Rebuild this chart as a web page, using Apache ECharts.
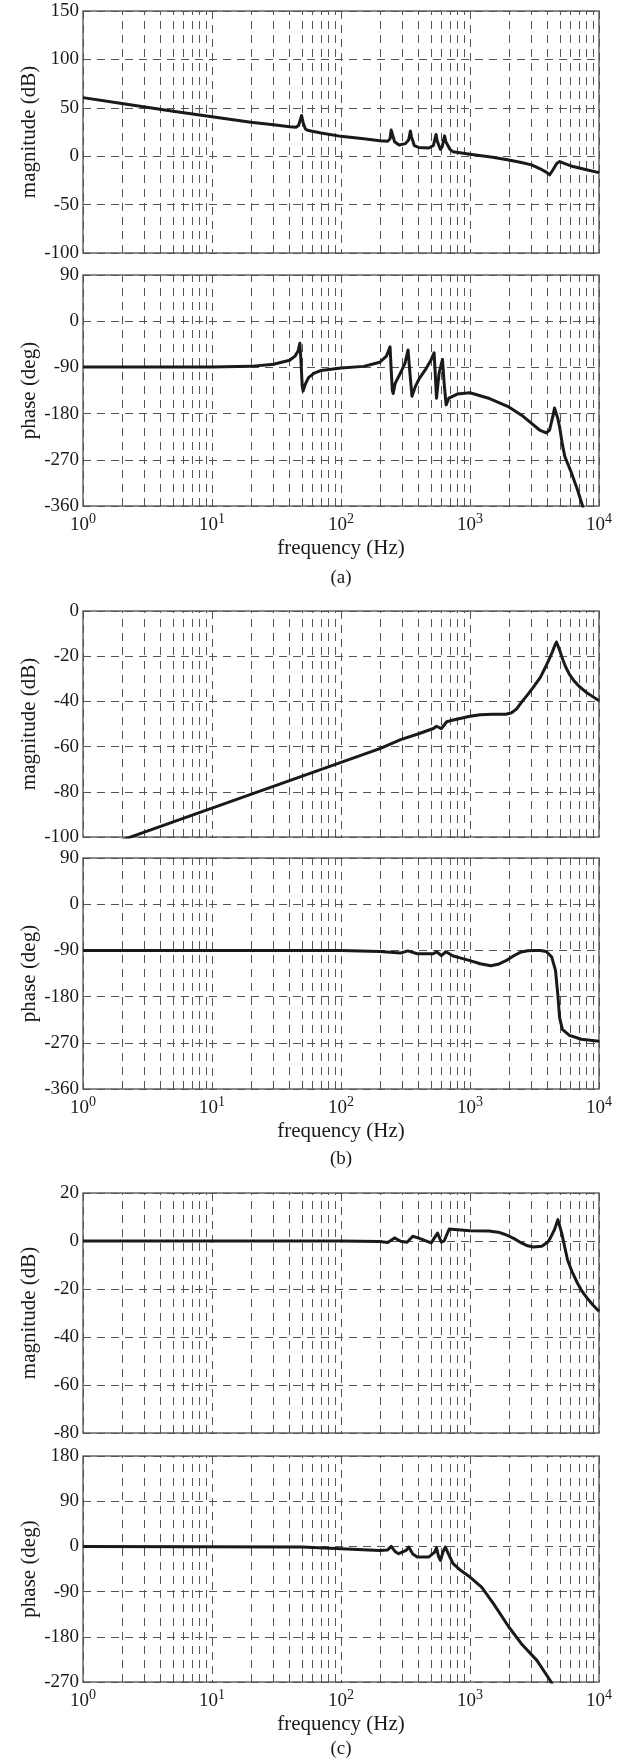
<!DOCTYPE html>
<html><head><meta charset="utf-8">
<script src="https://cdn.jsdelivr.net/npm/echarts@6/dist/echarts.min.js"></script>
<style>html,body{margin:0;padding:0;background:#fff}#c{width:629px;height:1758px}</style>
</head><body><div id="c"></div>
<script>
// ---------- data ----------
const magAFreq = [1,2,5,10,20,30,40,45,47,48.5,49.5,51,53,56,70,100,150,200,230,240,245,248,251,260,282,316,335,345,352,370,400,480,520,535,546,556,590,610,625,635,650,700,740,1000,1500,2000,2500,3000,3500,3900,4140,4400,4700,4955,5500,6300,8000,10000];
const magA     = [60.5,54.5,46.5,40.8,35,32.5,30.5,30,32,38,42,34,28,26.5,24,20.5,18,16,15.5,18,27,28.5,25,15,11.5,13,17,26,20,11,9,8.5,11,18,22.5,16,7,10,17,21,15,7,4.5,2,-1,-4,-6.5,-9,-13,-16.5,-19.3,-14,-7.5,-5.5,-8,-10.7,-14,-17];

const phaseAFreq = [1,10,20,30,40,44,46.5,48,49,50,50.8,53,56,62,70,100,150,200,225,240,245,250,254,263,293,313,331,342,355,376,404,450,501,527,537,550,575,612,630,653,686,797,1000,1416,2000,2512,3000,3465,3900,4140,4390,4520,4800,4950,5200,5440,6000,6800,7460,7600];
const phaseA     = [-89,-89,-88,-84,-76,-68,-58,-43,-80,-125,-136,-122,-110,-101,-96,-91,-88,-80,-68,-50,-95,-135,-141,-121,-98,-82,-56,-100,-146,-128,-112,-95,-74.5,-61.5,-100,-150,-102,-74.5,-120,-163,-150,-142,-139.5,-150.6,-167,-183,-199,-212,-217.6,-212,-185,-169,-190,-206,-240,-264,-290,-328,-360,-368];

const magBFreq = [1,10,100,200,290,400,520,550,600,660,700,1000,1200,1500,1900,2100,2300,2510,2800,3110,3500,3850,4296,4548,4680,4955,5200,5520,5900,6370,7000,7890,9000,10000];
const magB     = [-107.5,-87.2,-67,-60.9,-56.9,-54.3,-52,-51,-52,-49,-48.6,-46.6,-45.9,-45.7,-45.7,-45,-43.3,-40.3,-37,-33.6,-29.5,-24.8,-18.9,-15.2,-13.7,-17.4,-21,-24.8,-28,-30.7,-33.3,-35.8,-38,-39.7];

const phaseBFreq = [1,100,200,290,330,390,520,550,600,650,740,850,1000,1200,1450,1650,1900,2200,2500,2800,3100,3500,3900,4300,4600,4790,4950,5200,5900,7300,10000];
const phaseB     = [-90,-90,-92,-95,-91,-96.6,-96.6,-92.6,-100,-92.6,-101,-105,-110,-116,-120,-117,-110,-100,-93,-90.5,-90,-90,-92,-103,-129,-175,-221,-244,-255.6,-263,-267];

const magCFreq = [1,100,200,230,260,290,325,360,400,500,560,600,630,690,800,1000,1400,1700,1900,2200,2500,2800,3100,3600,4000,4200,4500,4800,5140,5700,6200,6800,7400,8100,9000,10000];
const magC     = [0,0,-0.2,-0.6,1.3,-0.1,-0.5,2,1.2,-0.8,3.3,-0.5,0,5,4.7,4.3,4.2,3.5,2.6,1,-0.8,-2,-2.5,-2.2,-0.5,1.3,4.5,8.9,3.3,-7.8,-13,-17.5,-21,-23.8,-26.8,-29.3];

const phaseCFreq = [1,50,100,200,230,245,262,280,320,335,360,390,480,530,550,570,590,620,645,680,740,850,1000,1230,1520,2000,2500,3300,4260,4500];
const phaseC     = [0,-1,-4.6,-8,-7,0,-10,-14.6,-8,-1.3,-15,-21,-21,-12,-2.7,-20,-28,-10,-1.3,-15,-34.5,-48,-61,-81,-114,-160.5,-193.7,-226.9,-270,-282];

// vertical grid lines between decades (2..9 x 10^n)
const minorFreqs = [2,3,4,5,6,7,8,9,20,30,40,50,60,70,80,90,200,300,400,500,600,700,800,900,2000,3000,4000,5000,6000,7000,8000,9000];
const subLabels = ['(a)','(b)','(c)'];

// ---------- layout / style ----------
const FONT = '"Liberation Serif", "Times New Roman", serif';
const INK = '#1a1a1a';
const GRIDC = '#555';
const DASH = [8, 6];

const panels = [
  {top: 11,   height: 242, min: -100, max: 150, interval: 50, name: 'magnitude (dB)', f: magAFreq,   v: magA,   x: false},
  {top: 275,  height: 231, min: -360, max: 90,  interval: 90, name: 'phase (deg)',    f: phaseAFreq, v: phaseA, x: true},
  {top: 611,  height: 226, min: -100, max: 0,   interval: 20, name: 'magnitude (dB)', f: magBFreq,   v: magB,   x: false},
  {top: 858,  height: 231, min: -360, max: 90,  interval: 90, name: 'phase (deg)',    f: phaseBFreq, v: phaseB, x: true},
  {top: 1193, height: 240, min: -80,  max: 20,  interval: 20, name: 'magnitude (dB)', f: magCFreq,   v: magC,   x: false},
  {top: 1456, height: 226, min: -270, max: 180, interval: 90, name: 'phase (deg)',    f: phaseCFreq, v: phaseC, x: true}
];
const subLabelY = [578, 1159, 1749];

const grid = [], xAxis = [], yAxis = [], series = [];
panels.forEach((p, i) => {
  grid.push({left: 83, width: 516, top: p.top, height: p.height, show: true,
    borderColor: '#666', borderWidth: 1.5, backgroundColor: 'rgba(0,0,0,0)'});
  xAxis.push({
    type: 'log', logBase: 10, min: 1, max: 10000, gridIndex: i,
    axisLine: {show: false}, axisTick: {show: false},
    splitLine: {show: true, lineStyle: {type: DASH, color: GRIDC, width: 1}},
    axisLabel: {
      show: p.x, margin: 6,
      formatter: v => '{b|10}{e|' + Math.round(Math.log10(v)) + '}',
      rich: {
        b: {fontFamily: FONT, fontSize: 19, color: INK},
        e: {fontFamily: FONT, fontSize: 14, color: INK, padding: [0, 0, 12, 0]}
      }
    },
    name: p.x ? 'frequency (Hz)' : '', nameLocation: 'middle', nameGap: 32,
    nameTextStyle: {fontFamily: FONT, fontSize: 21, color: INK}
  });
  yAxis.push({
    type: 'value', min: p.min, max: p.max, interval: p.interval, gridIndex: i,
    axisLine: {show: false}, axisTick: {show: false},
    splitLine: {show: true, lineStyle: {type: DASH, color: GRIDC, width: 1}},
    axisLabel: {fontFamily: FONT, fontSize: 19, color: INK, margin: 4},
    name: p.name, nameLocation: 'middle', nameGap: 43, nameMoveOverlap: false,
    nameTextStyle: {fontFamily: FONT, fontSize: 21, color: INK}
  });
  series.push({
    type: 'line', xAxisIndex: i, yAxisIndex: i,
    data: p.f.map((f, k) => [f, p.v[k]]),
    showSymbol: false, symbol: 'none', clip: true, z: 3,
    lineStyle: {color: INK, width: 3, join: 'round'},
    markLine: {
      silent: true, symbol: ['none', 'none'], z: 1, animation: false,
      label: {show: false},
      lineStyle: {type: DASH, color: GRIDC, width: 1},
      data: minorFreqs.map(f => ({xAxis: f}))
    }
  });
});

const graphic = subLabels.map((t, i) => ({
  type: 'text', x: 341, y: subLabelY[i],
  style: {text: t, font: '19px ' + FONT, fill: INK, textAlign: 'center', textVerticalAlign: 'middle', align: 'center', verticalAlign: 'middle'}
}));

const chart = echarts.init(document.getElementById('c'), null, {renderer: 'canvas'});
chart.setOption({animation: false, backgroundColor: '#fff', grid, xAxis, yAxis, series, graphic});
</script></body></html>
